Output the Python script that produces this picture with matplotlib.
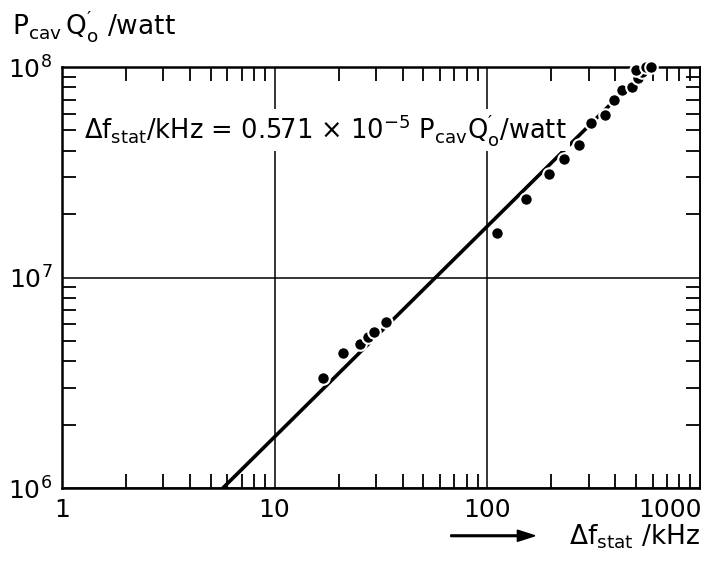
import numpy as np
import matplotlib
matplotlib.use("Agg")
import matplotlib.pyplot as plt
import matplotlib.transforms as mtransforms
from matplotlib.ticker import LogLocator, NullFormatter, FixedLocator

plt.rcParams['font.family'] = ['DejaVu Sans']
plt.rcParams['mathtext.default'] = 'regular'

# measured points (delta f_stat in kHz, P_cav*Q_o' in watt)
df_khz = [16.9, 21.0, 25.2, 27.5, 29.3, 33.4,
          111, 152, 195, 229, 269, 306, 356, 396, 432, 481, 513, 536, 502, 559, 590]
pq_watt = [3.32e6, 4.4e6, 4.84e6, 5.22e6, 5.52e6, 6.15e6,
           1.63e7, 2.37e7, 3.09e7, 3.65e7, 4.27e7, 5.44e7, 5.94e7, 7.0e7, 7.76e7,
           8.0e7, 8.86e7, 9.46e7, 9.67e7, 1.0e8, 1.0e8]

coef = 0.571e-5  # delta f / kHz = coef * P Q / watt
x_ticks = [1, 10, 100, 1000]
x_ticklabels = ["1", "10", "100", "1000"]
y_ticks = [1e6, 1e7, 1e8]
y_ticklabels = [r"$10^6$", r"$10^7$", r"$10^8$"]

fig = plt.figure(figsize=(7.01, 5.61), dpi=100)
ax = fig.add_axes([0.0884, 0.130, 0.910, 0.7505])
ax.set_xscale('log')
ax.set_yscale('log')
ax.set_xlim(1, 1000)
ax.set_ylim(1e6, 1e8)

# fit line across the plot
y_lim = np.array(ax.get_ylim())
ax.plot(y_lim * coef, y_lim, color='black', lw=2.6, zorder=3, solid_capstyle='butt')
ax.plot(df_khz, pq_watt, 'o', color='black', ms=9, mec='white', mew=1.5, zorder=4,
        clip_on=False)

ax.xaxis.set_major_locator(FixedLocator(x_ticks))
ax.set_xticklabels(x_ticklabels)
ax.yaxis.set_major_locator(FixedLocator(y_ticks))
ax.set_yticklabels(y_ticklabels)
ax.xaxis.set_minor_locator(LogLocator(base=10, subs=np.arange(2, 10)))
ax.yaxis.set_minor_locator(LogLocator(base=10, subs=np.arange(2, 10)))
ax.xaxis.set_minor_formatter(NullFormatter())
ax.yaxis.set_minor_formatter(NullFormatter())

ax.tick_params(which='both', direction='in', top=True, right=True, width=1.3, colors='black',
               labelsize=18)
ax.tick_params(which='major', length=0, pad=7)
ax.tick_params(which='minor', length=10)

last = ax.xaxis.get_major_ticks()[-1].label1
last.set_horizontalalignment('right')
last.set_transform(last.get_transform() + mtransforms.ScaledTranslation(0.02, 0, fig.dpi_scale_trans))

ax.grid(True, which='major', color='black', lw=1.1)
for s in ax.spines.values():
    s.set_linewidth(1.8)

ax.text(0.035, 0.85,
        r"$\Delta f_{stat}$/kHz = 0.571 $\times$ $10^{-5}$ $P_{cav}Q_{o}^{\prime}$/watt",
        transform=ax.transAxes, fontsize=18.5, ha='left', va='center', zorder=5,
        bbox=dict(facecolor='white', edgecolor='none', pad=2))

fig.text(0.017, 0.922, r"$P_{cav}\,Q_{o}^{\prime}$ /watt", fontsize=19, ha='left', va='bottom')
fig.text(0.998, 0.018, r"$\Delta f_{stat}$ /kHz", fontsize=19, ha='right', va='bottom')
fig.patches.append(matplotlib.patches.FancyArrow(0.643, 0.045, 0.12, 0, width=0.003,
                                                 head_width=0.02, head_length=0.025,
                                                 length_includes_head=True, color='black',
                                                 transform=fig.transFigure, figure=fig))

fig.savefig("out.png", dpi=100)
